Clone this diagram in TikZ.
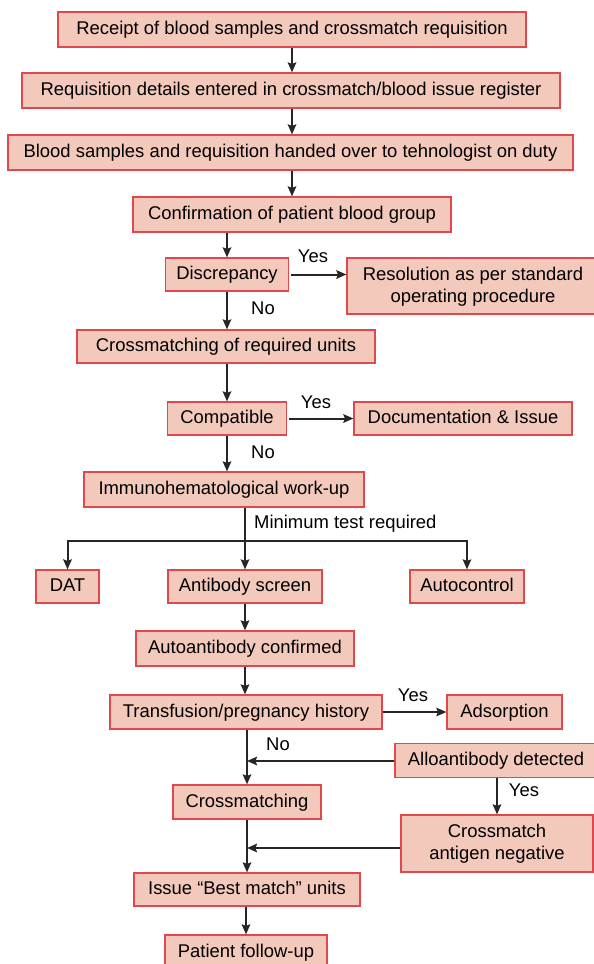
\documentclass[tikz,border=0pt]{standalone}
\usepackage{fontspec}
\setmainfont{Liberation Sans}
\usetikzlibrary{arrows.meta}
\definecolor{boxfill}{RGB}{243,201,187}
\definecolor{boxline}{RGB}{222,72,78}
\tikzset{
    box/.style={draw=boxline, fill=boxfill, line width=1.2bp, inner sep=0pt, align=center,
        text height=14.5pt, text depth=3.7pt, font=\fontsize{18.5}{22}\selectfont},
    twoline/.style={text height=36.5pt},
    arr/.style={-{Stealth[length=10bp, width=8.5bp, inset=1.5bp]}, line width=2bp, black!85},
    lbl/.style={font=\fontsize{18.5}{22}\selectfont, inner sep=0pt},
}
\begin{document}
\begin{tikzpicture}[x=1bp, y=-1bp]
    \useasboundingbox (0, 0) rectangle (594, 964);
    \node[box, minimum width=468bp, minimum height=35bp] (rec) at (292, 29.5) {Receipt of blood samples and crossmatch requisition};
    \node[box, minimum width=538bp, minimum height=35bp] (req) at (291, 90.5) {Requisition details entered in crossmatch/blood issue register};
    \node[box, minimum width=565bp, minimum height=35bp] (hand) at (290.5, 152.5) {Blood samples and requisition handed over to tehnologist on duty};
    \node[box, minimum width=318bp, minimum height=35bp] (conf) at (292, 214.5) {Confirmation of patient blood group};
    \node[box, minimum width=123bp, minimum height=33bp] (disc) at (227, 274.5) {Discrepancy};
    \node[box, twoline, minimum width=252bp, minimum height=56bp] (reso) at (473, 286) {Resolution as per standard\\operating procedure};
    \node[box, minimum width=298bp, minimum height=33bp] (xreq) at (226, 346.5) {Crossmatching of required units};
    \node[box, minimum width=119bp, minimum height=33bp] (comp) at (227, 418.5) {Compatible};
    \node[box, minimum width=218bp, minimum height=33bp] (doc) at (463, 418.5) {Documentation \& Issue};
    \node[box, minimum width=280bp, minimum height=35bp] (immuno) at (224, 489.5) {Immunohematological work-up};
    \node[box, minimum width=63bp, minimum height=33bp] (dat) at (67.5, 586.5) {DAT};
    \node[box, minimum width=154bp, minimum height=33bp] (absc) at (245, 586.5) {Antibody screen};
    \node[box, minimum width=114bp, minimum height=33bp] (auto) at (467, 586.5) {Autocontrol};
    \node[box, minimum width=218bp, minimum height=35bp] (autoab) at (245, 648.5) {Autoantibody confirmed};
    \node[box, minimum width=272bp, minimum height=34bp] (trans) at (246, 712) {Transfusion/pregnancy history};
    \node[box, minimum width=115bp, minimum height=34bp] (adsorp) at (504.5, 712) {Adsorption};
    \node[box, minimum width=202bp, minimum height=34bp] (allo) at (496, 760.5) {Alloantibody detected};
    \node[box, minimum width=148bp, minimum height=34bp] (xm) at (247, 802) {Crossmatching};
    \node[box, twoline, minimum width=192bp, minimum height=57bp] (xmneg) at (497, 843.5) {Crossmatch\\antigen negative};
    \node[box, minimum width=226bp, minimum height=33bp] (issue) at (247, 889.5) {Issue “Best match” units};
    \node[box, minimum width=162bp, minimum height=34bp] (follow) at (246, 952) {Patient follow-up};
    % labels
    \node[lbl] (yes1) at (313, 256) {Yes};
    \node[lbl] (no1) at (263, 308) {No};
    \node[lbl] (yes2) at (316, 402) {Yes};
    \node[lbl] (no2) at (263, 452) {No};
    \node[lbl, anchor=west] (mintest) at (254, 524) {Minimum test required};
    \node[lbl] (yes3) at (413, 695) {Yes};
    \node[lbl] (no3) at (278, 744) {No};
    \node[lbl] (yes4) at (524, 790) {Yes};
    \coordinate (split) at (245, 541);
    \coordinate (join1) at (247, 761);
    \coordinate (join2) at (247, 848);
    % arrows
    \draw[arr] (rec.south) -- (rec.south |- req.north);
    \draw[arr] (req.south -| rec.south) -- (rec.south |- hand.north);
    \draw[arr] (hand.south -| rec.south) -- (rec.south |- conf.north);
    \draw[arr] (disc.north |- conf.south) -- (disc.north);
    \draw[arr] (disc.east) ++(2, 0) -- (reso.west |- disc.east);
    \draw[arr] (disc.south) -- (disc.south |- xreq.north);
    \draw[arr] (disc.south |- xreq.south) -- (disc.south |- comp.north);
    \draw[arr] (comp.east) ++(2, 0) -- (doc.west);
    \draw[arr] (comp.south) -- (comp.south |- immuno.north);
    \draw[line width=2bp, black!85] (absc.north |- immuno.south) -- (split);
    \draw[arr] (split) -- (absc.north);
    \draw[arr] (split) -| (dat.north);
    \draw[arr] (split) -| (auto.north);
    \draw[arr] (absc.south) -- (autoab.north);
    \draw[arr] (autoab.south) -- (autoab.south |- trans.north);
    \draw[arr] (trans.east) -- (adsorp.west);
    \draw[arr] (xm.north |- trans.south) -- (xm.north);
    \draw[arr] (allo.west |- join1) -- (join1);
    \draw[arr] (allo.south -| xmneg.north) -- (xmneg.north);
    \draw[arr] (xm.south) -- (issue.north);
    \draw[arr] (xmneg.west |- join2) -- (join2);
    \draw[arr] (issue.south -| follow.north) -- (follow.north);
\end{tikzpicture}
\end{document}
